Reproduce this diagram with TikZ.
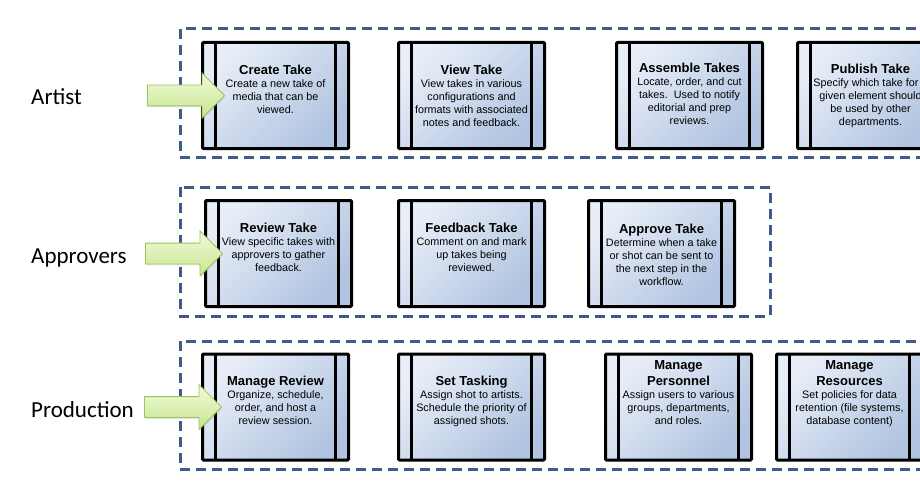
\documentclass[tikz,border=0pt]{standalone}
\usepackage{fontspec}
\setmainfont{Liberation Sans}
\newfontfamily\rolefont{Carlito}
\usepackage{tikz}
\definecolor{boxlight}{RGB}{232, 238, 248}
\definecolor{boxdark}{RGB}{176, 195, 224}
\definecolor{arrowlight}{RGB}{242, 251, 218}
\definecolor{arrowdark}{RGB}{198, 230, 142}
\definecolor{arrowedge}{RGB}{158, 195, 98}
\definecolor{frameblue}{RGB}{62, 92, 134}
\usetikzlibrary{
  positioning,
  shapes.arrows,
  shadows,
}
\tikzset{
  takebox/.style={draw,rectangle,line width=3pt,rounded corners=1pt,minimum width=146pt,minimum height=106pt,
    top color=boxlight,bottom color=boxdark,shading angle=45,
    path picture={
      \draw[line width=3pt] ([xshift=13pt]path picture bounding box.north west) -- ([xshift=13pt]path picture bounding box.south west);
      \draw[line width=3pt] ([xshift=-13pt]path picture bounding box.north east) -- ([xshift=-13pt]path picture bounding box.south east);
    }},
  taketext/.style={align=center,inner sep=0pt,font=\fontsize{10.8}{13}\selectfont},
  groupframe/.style={draw=frameblue,line width=3pt,dash pattern=on 10pt off 6pt},
  rolelabel/.style={font=\rolefont\fontsize{23}{27}\selectfont,anchor=base west,inner sep=0pt},
  entryarrow/.style={single arrow,draw=arrowedge,line width=0.8pt,top color=arrowlight,bottom color=arrowdark,
    minimum height=77pt,inner xsep=0pt,inner ysep=10pt,single arrow head extend=12pt,single arrow tip angle=90,
    anchor=tip,drop shadow={opacity=0.2,shadow xshift=1pt,shadow yshift=-1.5pt}},
}
\newcommand{\taketitle}[1]{{\fontsize{13}{15}\selectfont\bfseries #1}}

\begin{document}
\begin{tikzpicture}[x=1pt,y=-1pt]
        \useasboundingbox (0,0) rectangle (920,500);
        \clip (0,0) rectangle (920,500);
        \fill[white] (0,0) rectangle (920,500);

        % dashed group frames
        \draw[groupframe] (180,29) rectangle (940,157);
        \draw[groupframe] (180,187) rectangle (770,316);
        \draw[groupframe] (180,341) rectangle (940,469);

        % artist row
        \node[takebox]    (createtake)    at (275.5,95.5)    {};
        \node[takebox]    (viewtake)    [right=47pt of createtake]    {};
        \node[takebox]    (assembletakes)    [right=69pt of viewtake]    {};
        \node[takebox]    (publishtake)    [right=32pt of assembletakes]    {};

        \node[taketext,below=24pt of createtake.north]    (createtext)    {\taketitle{Create Take}\\Create a new take of\\media that can be\\viewed.};
        \node[taketext,below=24pt of viewtake.north]    (viewtext)    {\taketitle{View Take}\\View takes in various\\configurations and\\formats with associated\\notes and feedback.};
        \node[taketext,below=22pt of assembletakes.north]    (assembletext)    {\taketitle{Assemble Takes}\\Locate, order, and cut\\takes.\ \ Used to notify\\editorial and prep\\reviews.};
        \node[taketext,below=23pt of publishtake.north]    (publishtext)    {\taketitle{Publish Take}\\Specify which take for a\\given element should\\be used by other\\departments.};

        % approvers row
        \node[takebox]    (reviewtake)    at (278.5,253.5)    {};
        \node[takebox]    (feedbacktake)    [right=44pt of reviewtake]    {};
        \node[takebox]    (approvetake)    [right=41pt of feedbacktake]    {};

        \node[taketext,below=24pt of reviewtake.north]    (reviewtext)    {\taketitle{Review Take}\\View specific takes with\\approvers to gather\\feedback.};
        \node[taketext,below=24pt of feedbacktake.north]    (feedbacktext)    {\taketitle{Feedback Take}\\Comment on and mark\\up takes being\\reviewed.};
        \node[taketext,below=25pt of approvetake.north]    (approvetext)    {\taketitle{Approve Take}\\Determine when a take\\or shot can be sent to\\the next step in the\\workflow.};

        % production row
        \node[takebox]    (managereview)    at (275.5,407)    {};
        \node[takebox]    (settasking)    [right=47pt of managereview]    {};
        \node[takebox]    (managepersonnel)    [right=58pt of settasking]    {};
        \node[takebox]    (manageresources)    [right=22pt of managepersonnel]    {};

        \node[taketext,below=23pt of managereview.north]    (managereviewtext)    {\taketitle{Manage Review}\\Organize, schedule,\\order, and host a\\review session.};
        \node[taketext,below=23pt of settasking.north]    (settaskingtext)    {\taketitle{Set Tasking}\\Assign shot to artists.\\Schedule the priority of\\assigned shots.};
        \node[taketext,below=8pt of managepersonnel.north]    (personneltext)    {\taketitle{Manage}\\[3pt]\taketitle{Personnel}\\Assign users to various\\groups, departments,\\and roles.};
        \node[taketext,below=8pt of manageresources.north]    (resourcestext)    {\taketitle{Manage}\\[3pt]\taketitle{Resources}\\Set policies for data\\retention (file systems,\\database content)};

        % entry arrows
        \node[entryarrow]    (artistarrow)    at ([xshift=24pt]createtake.west)    {};
        \node[entryarrow]    (approversarrow)    at ([xshift=19pt]reviewtake.west)    {};
        \node[entryarrow]    (productionarrow)    at ([xshift=21pt]managereview.west)    {};

        % role labels
        \node[rolelabel]    (artistlabel)    at (31,104.5)    {Artist};
        \node[rolelabel]    (approverslabel)    at (31,263)    {Approvers};
        \node[rolelabel]    (productionlabel)    at (31,417)    {Production};
    \end{tikzpicture}
\end{document}
